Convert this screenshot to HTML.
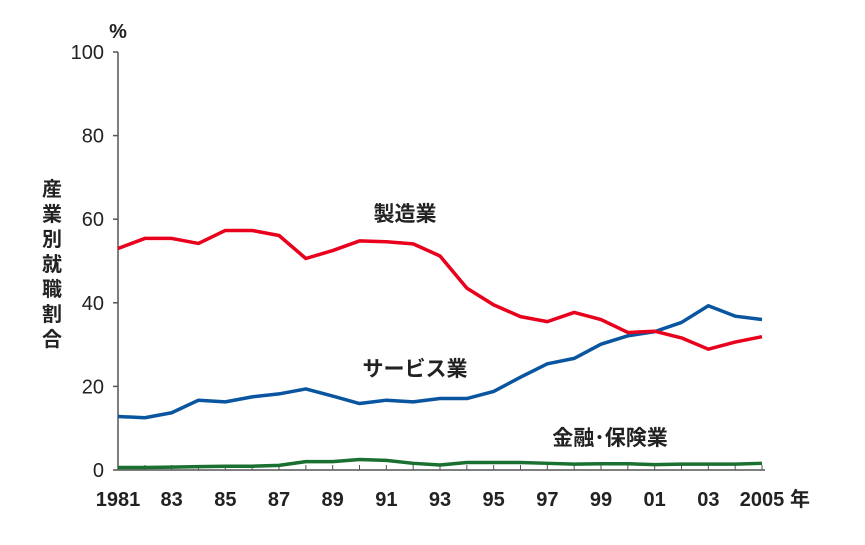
<!DOCTYPE html>
<html><head><meta charset="utf-8"><style>
body{margin:0;background:#fff}
svg text{font-family:"Liberation Sans","Noto Sans CJK JP",sans-serif;fill:#222}
</style></head><body>
<svg id="c" width="865" height="540">
<g id="axes"></g><g id="series"></g>
<text x="118" y="38" font-size="20" font-weight="bold" text-anchor="middle">%</text>
<text x="800" y="506" font-size="20" font-weight="bold" text-anchor="middle">年</text>
<g font-size="20" font-weight="bold" text-anchor="middle">
<text x="52" y="196">産</text><text x="52" y="221">業</text><text x="52" y="246">別</text><text x="52" y="271">就</text><text x="52" y="296">職</text><text x="52" y="321">割</text><text x="52" y="346">合</text>
</g>
<text x="405" y="221" font-size="21" font-weight="bold" text-anchor="middle">製造業</text>
<text x="415" y="376" font-size="21" font-weight="bold" text-anchor="middle">サービス業</text>
<text x="610" y="445" font-size="21" font-weight="bold" text-anchor="middle">金融･保険業</text>
</svg>
<script>
const years=[1981,1982,1983,1984,1985,1986,1987,1988,1989,1990,1991,1992,1993,1994,1995,1996,1997,1998,1999,2000,2001,2002,2003,2004,2005];
const manufacturing=[53.0,55.4,55.4,54.2,57.3,57.3,56.1,50.6,52.5,54.8,54.6,54.1,51.2,43.5,39.5,36.7,35.5,37.7,36.0,32.9,33.2,31.6,28.9,30.6,31.9];
const services=[12.8,12.5,13.7,16.7,16.3,17.5,18.2,19.4,17.7,15.9,16.7,16.3,17.1,17.1,18.8,22.2,25.4,26.7,30.1,32.1,33.1,35.3,39.3,36.8,36.0];
const finance=[0.6,0.6,0.7,0.8,0.9,0.9,1.1,2.0,2.0,2.5,2.3,1.6,1.2,1.8,1.8,1.8,1.6,1.4,1.5,1.5,1.3,1.4,1.4,1.4,1.6];
const yTicks=[0,20,40,60,80,100];
const xLabels=["1981","83","85","87","89","91","93","95","97","99","01","03","2005"];
const NS="http://www.w3.org/2000/svg";
const x0=118,x1=762,y0=470,y1=52;
const xs=y=>x0+(y-1981)*(x1-x0)/24;
const ys=v=>y0-v*(y0-y1)/100;
const ax=document.getElementById('axes'),se=document.getElementById('series');
function mk(tag,at,p){const e=document.createElementNS(NS,tag);for(const k in at)e.setAttribute(k,at[k]);p.appendChild(e);return e;}
let l=mk('line',{x1:x0,y1:y1,x2:x0,y2:y0,stroke:'#555','stroke-width':1.5},ax);


l=mk('line',{x1:x0,y1:y0,x2:x1+3,y2:y0,stroke:'#555','stroke-width':1.5},ax);


yTicks.forEach(v=>{
 const t=mk('line',{x1:x0-5,x2:x0,y1:ys(v),y2:ys(v),stroke:'#555','stroke-width':1.5},ax);
 
 
 const tx=mk('text',{x:x0-14,y:ys(v)+7,'font-size':20,'text-anchor':'end'},ax);
 tx.textContent=v;
 
 
});
years.forEach(y=>{
 const t=mk('line',{x1:xs(y),x2:xs(y),y1:y0,y2:y0-5,stroke:'#555','stroke-width':1},ax);
 
 
});
xLabels.forEach((s,i)=>{
 const tx=mk('text',{x:xs(1981+2*i),y:506,'font-size':20,'font-weight':'bold','text-anchor':'middle'},ax);
 tx.textContent=s;
 
 
});
function line(vals,col,name){
 const p=mk('polyline',{points:vals.map((v,i)=>xs(years[i])+','+ys(v)).join(' '),fill:'none',stroke:col,'stroke-width':3.5,'stroke-linejoin':'round'},se);
 
 
}
line(finance,'#1a7030','line-finance');
line(services,'#0a559f','line-services');
line(manufacturing,'#e8001c','line-manufacturing');
</script>
</body></html>
